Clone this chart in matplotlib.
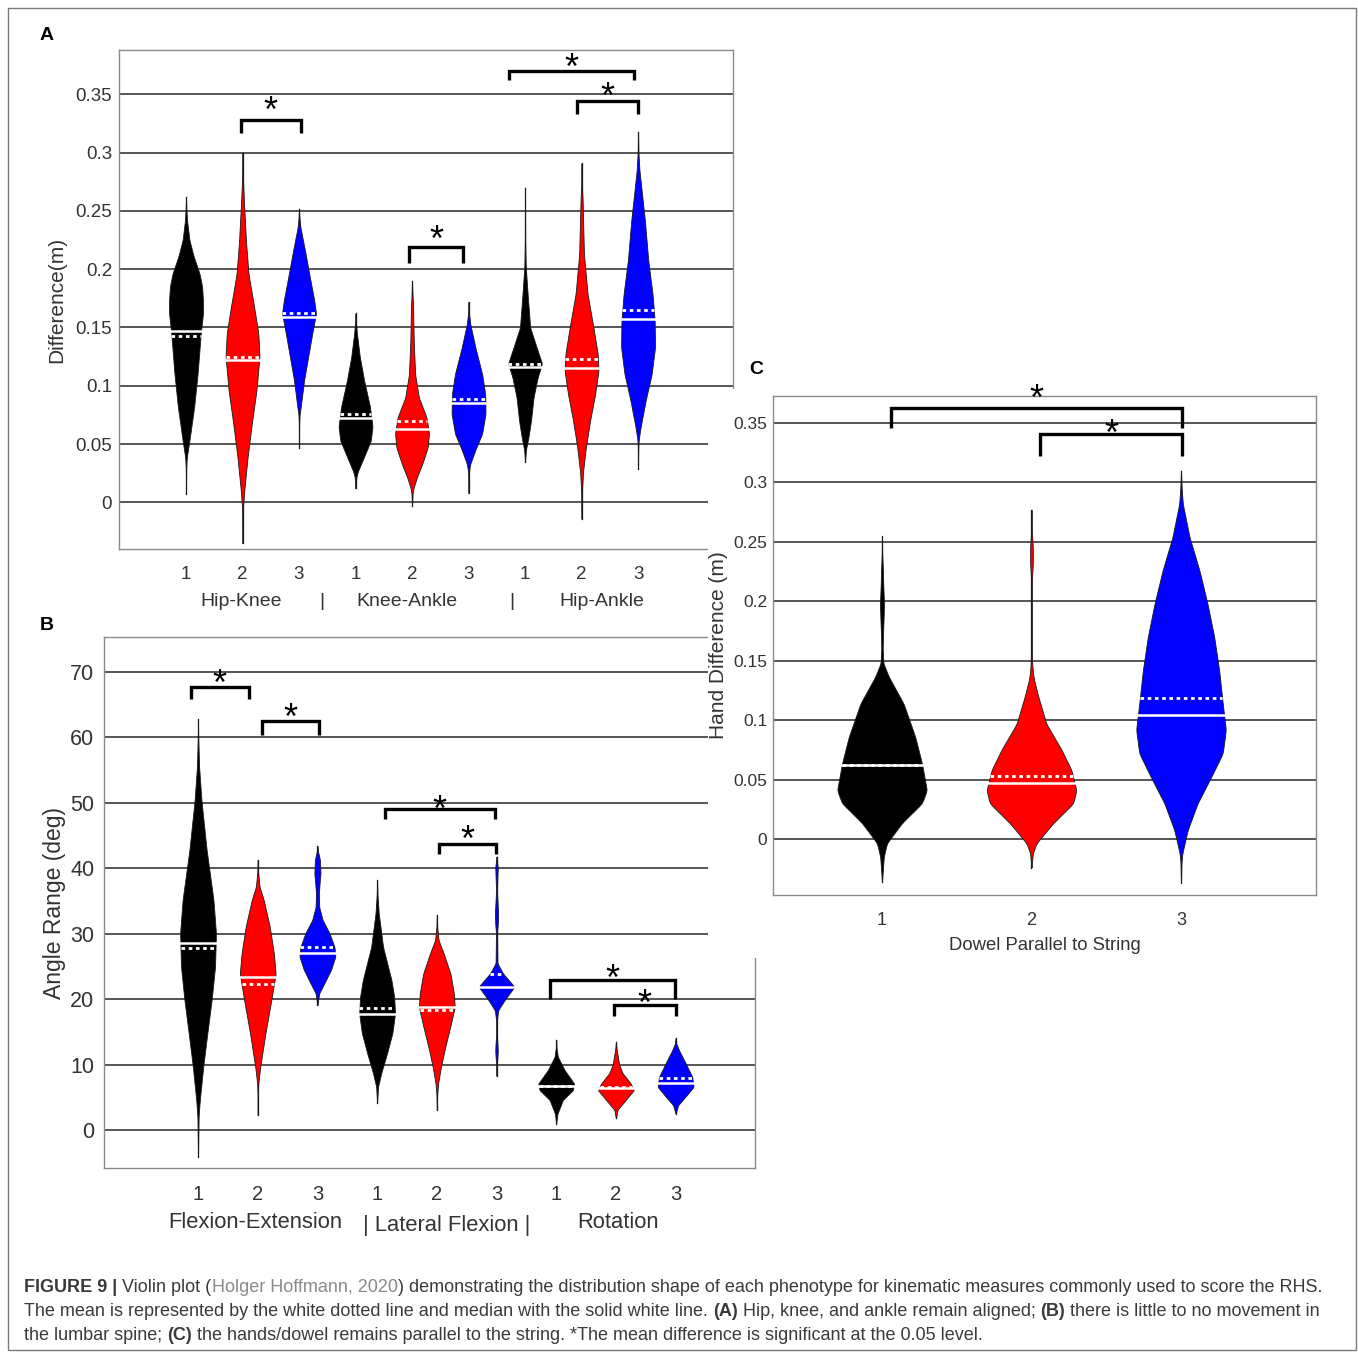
import numpy as np
import matplotlib
matplotlib.use("Agg")
import matplotlib.pyplot as plt
from matplotlib.patches import Rectangle
from matplotlib.transforms import offset_copy

plt.rcParams['font.family'] = ['Liberation Sans', 'DejaVu Sans']

# ---------------- data ----------------
phenotypes = ["1", "2", "3"]
colors = ["#000000", "#ff0000", "#0000ff"]

# Panel A : Difference (m)
A_groups = ["Hip-Knee", "Knee-Ankle", "Hip-Ankle"]
A_min = [0.007, -0.035, 0.047, 0.012, -0.003, 0.008, 0.035, -0.014, 0.029]
A_max = [0.262, 0.300, 0.252, 0.162, 0.190, 0.172, 0.270, 0.291, 0.318]
A_median = [0.147, 0.122, 0.159, 0.072, 0.063, 0.085, 0.116, 0.115, 0.157]
A_mean = [0.143, 0.125, 0.162, 0.0755, 0.070, 0.089, 0.119, 0.123, 0.165]
A_prof_y = [
    [0.007, 0.030, 0.039, 0.053, 0.082, 0.110, 0.145, 0.162, 0.173, 0.185, 0.196, 0.211, 0.225, 0.242, 0.252, 0.262],
    [-0.035, -0.015, -0.004, 0.010, 0.039, 0.068, 0.096, 0.125, 0.145, 0.168, 0.196, 0.225, 0.259, 0.280, 0.300],
    [0.047, 0.068, 0.075, 0.082, 0.105, 0.125, 0.145, 0.162, 0.173, 0.196, 0.216, 0.236, 0.245, 0.252],
    [0.012, 0.022, 0.027, 0.039, 0.053, 0.065, 0.082, 0.105, 0.125, 0.145, 0.155, 0.162],
    [-0.003, 0.008, 0.013, 0.022, 0.033, 0.047, 0.059, 0.073, 0.090, 0.110, 0.139, 0.168, 0.180, 0.190],
    [0.008, 0.022, 0.027, 0.033, 0.045, 0.059, 0.076, 0.093, 0.110, 0.133, 0.153, 0.163, 0.172],
    [0.035, 0.045, 0.056, 0.070, 0.090, 0.1075, 0.119, 0.133, 0.150, 0.179, 0.202, 0.225, 0.270],
    [-0.014, 0.002, 0.008, 0.025, 0.047, 0.070, 0.093, 0.113, 0.1275, 0.150, 0.179, 0.213, 0.259, 0.275, 0.291],
    [0.029, 0.045, 0.053, 0.0646, 0.0875, 0.110, 0.133, 0.156, 0.179, 0.2076, 0.242, 0.285, 0.300, 0.318],
]
A_prof_w = [
    [0, 0.01, 0.05, 0.2, 0.48, 0.68, 0.87, 1.0, 1.0, 0.95, 0.8, 0.45, 0.2, 0.06, 0.02, 0],
    [0, 0.01, 0.03, 0.1, 0.3, 0.55, 0.82, 1.0, 0.93, 0.68, 0.35, 0.2, 0.08, 0.02, 0],
    [0, 0.01, 0.03, 0.1, 0.3, 0.54, 0.78, 1.0, 0.9, 0.6, 0.35, 0.08, 0.02, 0],
    [0, 0.05, 0.15, 0.5, 0.9, 1.0, 0.85, 0.5, 0.25, 0.08, 0.02, 0],
    [0, 0.03, 0.1, 0.3, 0.6, 0.92, 1.0, 0.85, 0.4, 0.18, 0.1, 0.06, 0.02, 0],
    [0, 0.01, 0.03, 0.1, 0.4, 0.8, 1.0, 0.98, 0.8, 0.4, 0.1, 0.02, 0],
    [0, 0.05, 0.2, 0.35, 0.5, 0.75, 1.0, 0.68, 0.3, 0.15, 0.04, 0.01, 0],
    [0, 0.01, 0.02, 0.08, 0.25, 0.5, 0.8, 1.0, 0.95, 0.7, 0.35, 0.14, 0.06, 0.01, 0],
    [0, 0.01, 0.03, 0.15, 0.45, 0.8, 1.0, 0.98, 0.85, 0.6, 0.4, 0.08, 0.02, 0],
]
# significance brackets: (from position, to position, top, leg end, star height)
A_sig = [(1.97, 3.03, 0.3277, 0.317, 0.3414),
         (4.95, 5.91, 0.219, 0.205, 0.2308),
         (6.72, 8.93, 0.370, 0.3626, 0.3786),
         (7.92, 8.99, 0.3446, 0.3328, 0.3534)]

# Panel B : Angle Range (deg)
B_groups = ["Flexion-Extension", "| Lateral Flexion |", "Rotation"]
B_min = [-4.1, 2.3, 19.1, 4.2, 3.1, 8.3, 1.0, 1.8, 2.5]
B_max = [62.8, 41.3, 43.4, 38.2, 32.9, 41.8, 13.8, 13.5, 14.0]
B_median = [28.6, 23.4, 27.0, 17.7, 18.8, 21.8, 6.8, 6.5, 7.2]
B_mean = [27.8, 22.3, 28.0, 18.6, 18.3, 23.9, 6.8, 6.6, 8.0]
B_prof_y = [
    [-4.1, 2.0, 4.6, 9.7, 14.8, 19.9, 25.0, 30.1, 35.2, 42.8, 50.4, 55.5, 60.0, 62.8],
    [2.3, 5.5, 7.1, 9.7, 14.8, 19.9, 23.9, 27.0, 31.1, 35.2, 37.2, 39.5, 41.3],
    [19.1, 20.9, 22.4, 24.5, 26.5, 28.0, 30.1, 32.1, 34.1, 36.2, 37.7, 39.2, 41.3, 42.5, 43.4],
    [4.2, 6.6, 8.7, 11.7, 14.8, 17.8, 20.4, 22.9, 28.0, 33.1, 36.0, 38.2],
    [3.1, 5.5, 7.1, 9.7, 12.7, 15.8, 18.8, 20.9, 23.9, 27.0, 29.0, 31.0, 32.9],
    [8.3, 10.0, 11.0, 12.2, 13.4, 14.5, 16.5, 18.3, 19.9, 21.9, 23.9, 25.5, 28.0, 30.1, 31.5, 33.1, 34.6, 36.7, 38.5, 40.2, 41.2, 41.8],
    [1.0, 2.5, 4.6, 6.1, 7.1, 9.2, 11.2, 12.5, 13.8],
    [1.8, 3.1, 4.6, 6.1, 7.1, 8.7, 10.0, 11.2, 12.5, 13.5],
    [2.5, 3.8, 5.1, 6.6, 8.1, 10.2, 12.2, 13.2, 14.0],
]
B_prof_w = [
    [0, 0.03, 0.1, 0.29, 0.52, 0.76, 0.95, 1.0, 0.86, 0.48, 0.19, 0.06, 0.01, 0],
    [0, 0.01, 0.03, 0.14, 0.43, 0.76, 1.0, 0.9, 0.67, 0.33, 0.1, 0.02, 0],
    [0, 0.1, 0.38, 0.76, 1.0, 0.95, 0.67, 0.29, 0.1, 0.08, 0.12, 0.17, 0.14, 0.04, 0],
    [0, 0.05, 0.23, 0.55, 0.85, 1.0, 0.95, 0.8, 0.33, 0.09, 0.02, 0],
    [0, 0.02, 0.07, 0.23, 0.47, 0.75, 1.0, 0.95, 0.76, 0.38, 0.1, 0.02, 0],
    [0, 0.005, 0.05, 0.07, 0.05, 0.01, 0.01, 0.09, 0.46, 1.0, 0.37, 0.05, 0.04, 0.03, 0.07, 0.09, 0.06, 0.025, 0.05, 0.07, 0.02, 0],
    [0, 0.07, 0.37, 0.93, 1.0, 0.46, 0.09, 0.02, 0],
    [0, 0.09, 0.55, 1.0, 0.83, 0.37, 0.18, 0.11, 0.03, 0],
    [0, 0.14, 0.55, 1.0, 0.93, 0.56, 0.19, 0.04, 0],
]
B_sig = [(0.88, 1.85, 67.7, 65.9, 69.2),
         (2.07, 3.03, 62.5, 60.4, 64.0),
         (4.13, 5.97, 49.0, 47.5, 50.0),
         (5.04, 5.99, 43.7, 42.2, 45.4),
         (6.90, 8.99, 22.9, 20.0, 24.2),
         (7.96, 9.00, 19.1, 17.4, 20.4)]

# Panel C : Hand Difference (m)
C_group = "Dowel Parallel to String"
C_min = [-0.036, -0.024, -0.037]
C_max = [0.255, 0.277, 0.310]
C_median = [0.062, 0.047, 0.104]
C_mean = [0.062, 0.053, 0.119]
C_prof_y = [
    [-0.036, -0.0149, -0.0036, 0.0132, 0.030, 0.041, 0.0637, 0.086, 0.114, 0.1366, 0.148, 0.160, 0.170, 0.185, 0.198, 0.212, 0.226, 0.240, 0.255],
    [-0.024, -0.012, -0.0036, 0.0132, 0.030, 0.041, 0.058, 0.075, 0.097, 0.120, 0.135, 0.145, 0.160, 0.215, 0.222, 0.232, 0.245, 0.254, 0.262, 0.277],
    [-0.037, -0.020, -0.012, 0.0076, 0.030, 0.052, 0.072, 0.092, 0.114, 0.142, 0.170, 0.198, 0.226, 0.254, 0.282, 0.298, 0.310],
]
C_prof_w = [
    [0, 0.04, 0.11, 0.44, 0.89, 1.0, 0.89, 0.74, 0.48, 0.15, 0.03, 0.015, 0.02, 0.035, 0.045, 0.03, 0.02, 0.005, 0],
    [0, 0.03, 0.11, 0.48, 0.93, 1.0, 0.89, 0.67, 0.33, 0.15, 0.05, 0.02, 0.004, 0.004, 0.015, 0.03, 0.03, 0.015, 0.004, 0],
    [0, 0.01, 0.03, 0.15, 0.37, 0.67, 0.93, 1.0, 0.93, 0.85, 0.74, 0.59, 0.41, 0.19, 0.04, 0.01, 0],
]
C_sig = [(1.06, 3.01, 0.3626, 0.3458, 0.376),
         (2.06, 3.01, 0.3407, 0.322, 0.3466)]

# ---------------- drawing ----------------
W, H = 1358, 1353
fig = plt.figure(figsize=(W / 100, H / 100), dpi=100)
fig.patch.set_facecolor("white")
TXT = "#333333"
HALF = 0.30


def fx(x):
    return x / W


def fy(y):
    return 1 - y / H


def add_ax(left, top, right, bottom, z):
    return fig.add_axes([fx(left), fy(bottom), (right - left) / W, (bottom - top) / H], zorder=z)


def smooth_profile(yv, wv, n=700, k=21):
    ys = np.linspace(yv[0], yv[-1], n)
    w = np.interp(ys, yv, wv)
    ker = np.hanning(k)
    ker /= ker.sum()
    ws = np.convolve(np.pad(w, k // 2, mode="edge"), ker, mode="valid")
    ws[0] = ws[-1] = 0
    return ys, ws


def violin(ax, pos, yv, wv, lo, hi, med, mean, color):
    ax.plot([pos, pos], [lo, hi], color="#111111", lw=0.9, zorder=2)
    ys, ws = smooth_profile(yv, wv)
    ws = ws * HALF
    ax.fill_betweenx(ys, pos - ws, pos + ws, facecolor=color, edgecolor="#1a1a1a", lw=0.6, zorder=3)
    wm = np.interp(mean, ys, ws)
    ax.plot([pos - wm, pos + wm], [mean, mean], color="white", lw=2.0,
            ls=(0, (1.3, 1.3)), solid_capstyle="butt", dash_capstyle="butt", zorder=4)
    wd = np.interp(med, ys, ws)
    ax.plot([pos - wd, pos + wd], [med, med], color="white", lw=1.8, zorder=5)


def brackets(ax, sig, fs=26):
    star_tr = offset_copy(ax.transData, fig=fig, y=-0.50 * fs, units="points")
    for x1, x2, top, low, ys in sig:
        ax.plot([x1, x1, x2, x2], [low, top, top, low], color="black", lw=2.4,
                solid_joinstyle="miter", solid_capstyle="butt", zorder=6, clip_on=False)
        ax.text((x1 + x2) / 2, ys, "*", fontsize=fs, ha="center", va="baseline",
                transform=star_tr, zorder=7, clip_on=False)


def style_axes(ax, yticks, ylabels, lsize, pad):
    for sp in ax.spines.values():
        sp.set_color("#8a8a8a")
        sp.set_linewidth(1.0)
    ax.set_yticks(yticks)
    ax.set_yticklabels(ylabels)
    ax.tick_params(axis="both", length=0, labelsize=lsize, colors=TXT)
    ax.tick_params(axis="y", pad=pad)
    ax.grid(axis="y", color="#555555", lw=1.4)
    ax.set_axisbelow(True)


# ---- Panel A
axA = add_ax(119, 50, 733, 549, 1)
axA.set_xlim(-0.186, 10.68)
axA.set_ylim(-0.040, 0.388)
style_axes(axA, [0, 0.05, 0.1, 0.15, 0.2, 0.25, 0.3, 0.35],
           ["0", "0.05", "0.1", "0.15", "0.2", "0.25", "0.3", "0.35"], 13.5, 5)
for i in range(9):
    violin(axA, i + 1, A_prof_y[i], A_prof_w[i], A_min[i], A_max[i], A_median[i], A_mean[i], colors[i % 3])
axA.set_xticks(range(1, 10))
axA.set_xticklabels(phenotypes * 3)
axA.tick_params(axis="x", pad=12, labelsize=13.5)
brackets(axA, A_sig)

# ---- Panel B
axB = add_ax(104, 637, 755, 1168, 1)
axB.set_xlim(-0.575, 10.33)
axB.set_ylim(-5.8, 75.35)
style_axes(axB, list(range(0, 80, 10)), [str(v) for v in range(0, 80, 10)], 15.5, 7)
for i in range(9):
    violin(axB, i + 1, B_prof_y[i], B_prof_w[i], B_min[i], B_max[i], B_median[i], B_mean[i], colors[i % 3])
axB.set_xticks(range(1, 10))
axB.set_xticklabels(phenotypes * 3)
axB.tick_params(axis="x", pad=12, labelsize=14.5)
brackets(axB, B_sig)

# ---- white backdrop of panel C (pasted over A and B)
fig.patches.append(Rectangle((fx(708), fy(958)), (1350 - 708) / W, (958 - 389) / H,
                             transform=fig.transFigure, facecolor="white", edgecolor="none", zorder=2))

# ---- Panel C
axC = add_ax(773, 396, 1316, 895, 3)
axC.set_xlim(0.271, 3.903)
axC.set_ylim(-0.0471, 0.3727)
style_axes(axC, [0, 0.05, 0.1, 0.15, 0.2, 0.25, 0.3, 0.35],
           ["0", "0.05", "0.1", "0.15", "0.2", "0.25", "0.3", "0.35"], 12.5, 4)
for i in range(3):
    violin(axC, i + 1, C_prof_y[i], C_prof_w[i], C_min[i], C_max[i], C_median[i], C_mean[i], colors[i])
axC.set_xticks(range(1, 4))
axC.set_xticklabels(phenotypes)
axC.tick_params(axis="x", pad=12, labelsize=13)
brackets(axC, C_sig)

# ---- labels
fig.text(fx(57), fy(300), "Difference(m)", rotation=90, ha="center", va="center", fontsize=15, color=TXT)
fig.text(fx(55), fy(903), "Angle Range (deg)", rotation=90, ha="center", va="center", fontsize=16.5, color=TXT)
fig.text(fx(718), fy(645), "Hand Difference (m)", rotation=90, ha="center", va="center", fontsize=15, color=TXT, zorder=4)

for x, s in [(241, A_groups[0]), (322, "|"), (407, A_groups[1]), (512, "|"), (602, A_groups[2])]:
    fig.text(fx(x), fy(601), s, ha="center", va="center", fontsize=14, color=TXT)
for x, y, s in [(255, 1222, B_groups[0]), (447, 1226, B_groups[1]), (618, 1222, B_groups[2])]:
    fig.text(fx(x), fy(y), s, ha="center", va="center", fontsize=15.8, color=TXT)
fig.text(fx(1045), fy(945), C_group, ha="center", va="center", fontsize=13.3, color=TXT, zorder=4)

fig.text(fx(47), fy(36), "A", ha="center", va="center", fontsize=14, fontweight="bold", color="black")
fig.text(fx(47), fy(625), "B", ha="center", va="center", fontsize=14, fontweight="bold", color="black")
fig.text(fx(756), fy(370), "C", ha="center", va="center", fontsize=14, fontweight="bold", color="black", zorder=4)

# ---- caption
CAP = 13.0
GREY = "#8a8a8a"
DARK = "#3a3a3a"
caption_lines = [
    [("FIGURE 9 |", "bold", DARK), ("Violin plot (", "normal", DARK), ("Holger Hoffmann, 2020", "normal", GREY),
     (") demonstrating the distribution shape of each phenotype for kinematic measures commonly used to score the RHS.", "normal", DARK)],
    [("The mean is represented by the white dotted line and median with the solid white line.", "normal", DARK),
     ("(A)", "bold", DARK), ("Hip, knee, and ankle remain aligned;", "normal", DARK), ("(B)", "bold", DARK),
     ("there is little to no movement in", "normal", DARK)],
    [("the lumbar spine;", "normal", DARK), ("(C)", "bold", DARK),
     ("the hands/dowel remains parallel to the string. *The mean difference is significant at the 0.05 level.", "normal", DARK)],
]
# joins: whether a space follows each run
caption_joins = [[True, False, False, False], [True, True, True, True, False], [True, True, False]]
renderer = fig.canvas.get_renderer()
space_px = 0.278 * CAP * 100 / 72
for line, joins, y in zip(caption_lines, caption_joins, [1287, 1312, 1336]):
    cur = 24
    for (s, wgt, col), sp in zip(line, joins):
        t = fig.text(fx(cur), fy(y), s, ha="left", va="center", fontsize=CAP, fontweight=wgt, color=col)
        cur += t.get_window_extent(renderer=renderer).width + (space_px if sp else 0)

# ---- outer border
fig.patches.append(Rectangle((fx(8), fy(1350)), (1356 - 8) / W, (1350 - 8) / H, transform=fig.transFigure,
                             facecolor="none", edgecolor="#7a7a7a", lw=1.0, zorder=10))

fig.savefig("out.png", dpi=100)
